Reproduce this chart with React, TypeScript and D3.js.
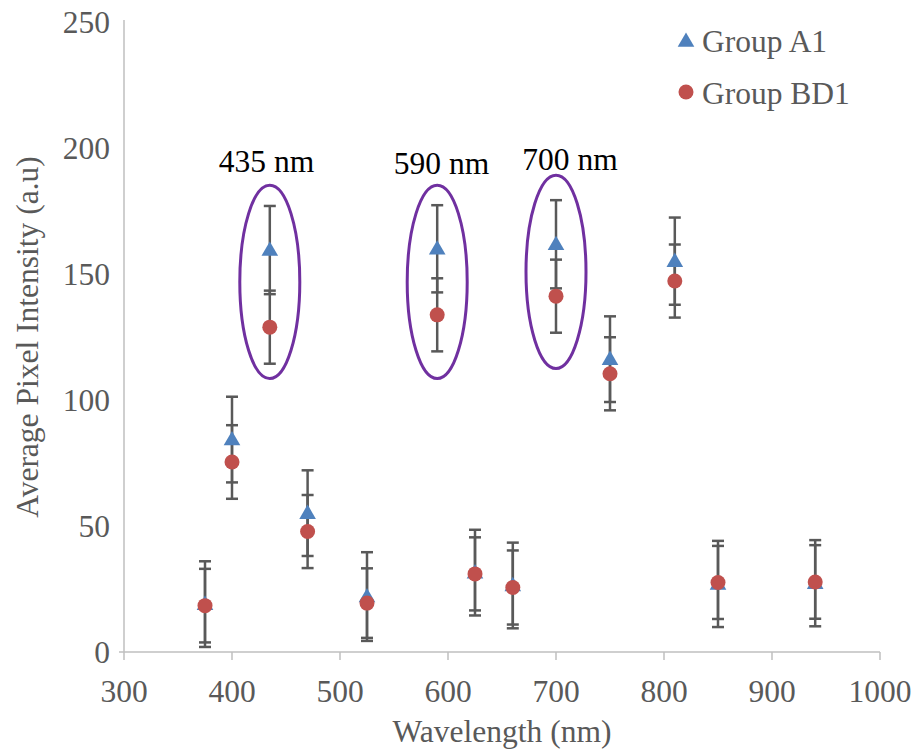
import React from 'react';
import * as d3 from 'd3';

// wavelengths (nm) shared by both groups
const wavelengths = [375, 400, 435, 470, 525, 590, 625, 660, 700, 750, 810, 850, 940];

const groupA1 = [19, 84.3, 159.5, 55.1, 22, 160, 31.5, 26.4, 161.8, 116.2, 155.1, 27, 27.3];
const groupA1Err = [17, 17, 17.5, 17, 17.6, 17.3, 17, 17, 17.5, 17, 17.3, 17.1, 17.1];

const groupBD1 = [18.4, 75.4, 128.9, 47.8, 19.4, 133.8, 31, 25.6, 141.2, 110.4, 147.2, 27.6, 27.8];
const groupBD1Err = [14.6, 14.6, 14.5, 14.5, 13.8, 14.5, 14.5, 14.7, 14.5, 14.5, 14.5, 14.5, 14.6];

const xTicks = [300, 400, 500, 600, 700, 800, 900, 1000];
const yTicks = [0, 50, 100, 150, 200, 250];

// highlighted wavelengths
const annWavelength = [435, 590, 700];
const annTop = [185.2, 185.2, 189.2];
const annBottom = [108.5, 108.5, 112.5];
const annLabels = ['435 nm', '590 nm', '700 nm'];
const annLabelNm = [432, 594, 713];
const annLabelVal = [190.5, 189.8, 191.3];

const FONT = 'Liberation Serif, serif';
const GREY = '#595959';
const BLUE = '#4F81BD';
const RED = '#C0504D';
const FS = 31.5;

const App = () => {
  const width = 917;
  const height = 751;

  const x = d3.scaleLinear().domain([300, 1000]).range([124, 880]);
  const y = d3.scaleLinear().domain([0, 250]).range([652, 22]);

  const cap = 6;
  const tri = d3.symbol().type(d3.symbolTriangle).size(120)();

  const errorBars = (vals, errs, key) =>
    wavelengths.map((w, i) => {
      const cx = x(w);
      const top = y(vals[i] + errs[i]);
      const bot = y(vals[i] - errs[i]);
      return (
        <g key={key + i} stroke={GREY} strokeWidth={2.5}>
          <line x1={cx} x2={cx} y1={top} y2={bot} />
          <line x1={cx - cap} x2={cx + cap} y1={top} y2={top} />
          <line x1={cx - cap} x2={cx + cap} y1={bot} y2={bot} />
        </g>
      );
    });

  return (
    <svg
      width={width}
      height={height}
      style={{ position: 'absolute', left: 0, top: 0, background: '#fff', fontFamily: FONT }}
    >
      {/* axes */}
      <line x1={x(300)} x2={x(300)} y1={y(250) - 2} y2={y(0)} stroke="#bfbfbf" strokeWidth={1.5} />
      <line x1={x(300) - 5} x2={x(1000)} y1={y(0)} y2={y(0)} stroke="#bfbfbf" strokeWidth={1.5} />
      {xTicks.map(t => (
        <g key={'xt' + t}>
          <line x1={x(t)} x2={x(t)} y1={y(0)} y2={y(0) + 8} stroke="#bfbfbf" strokeWidth={1.5} />
          <text x={x(t)} y={702} textAnchor="middle" fontSize={FS} fill={GREY}>
            {t}
          </text>
        </g>
      ))}
      {yTicks.map(t => (
        <text key={'yt' + t} x={110} y={y(t)} dy="0.34em" textAnchor="end" fontSize={FS} fill={GREY}>
          {t}
        </text>
      ))}

      <text x={(x(300) + x(1000)) / 2} y={742} textAnchor="middle" fontSize={FS} fill={GREY}>
        Wavelength (nm)
      </text>
      <text
        transform={`translate(38,${(y(0) + y(250)) / 2}) rotate(-90)`}
        textAnchor="middle"
        fontSize={FS}
        fill={GREY}
      >
        Average Pixel Intensity (a.u)
      </text>

      {/* highlight ellipses */}
      {annWavelength.map((w, i) => (
        <g key={'ann' + i}>
          <ellipse
            cx={x(w)}
            cy={(y(annTop[i]) + y(annBottom[i])) / 2}
            rx={30}
            ry={(y(annBottom[i]) - y(annTop[i])) / 2}
            fill="none"
            stroke="#7030A0"
            strokeWidth={3}
          />
          <text x={x(annLabelNm[i])} y={y(annLabelVal[i])} textAnchor="middle" fontSize={FS} fill="#000">
            {annLabels[i]}
          </text>
        </g>
      ))}

      {errorBars(groupA1, groupA1Err, 'ea')}
      {errorBars(groupBD1, groupBD1Err, 'eb')}

      {wavelengths.map((w, i) => (
        <path key={'a' + i} d={tri} transform={`translate(${x(w)},${y(groupA1[i]) + 1})`} fill={BLUE} />
      ))}
      {wavelengths.map((w, i) => (
        <circle key={'b' + i} cx={x(w)} cy={y(groupBD1[i])} r={7.5} fill={RED} />
      ))}

      {/* legend */}
      <path d={tri} transform="translate(686,42)" fill={BLUE} />
      <text x={702} y={52} fontSize={FS} fill={GREY}>Group A1</text>
      <circle cx={686} cy={92} r={7.5} fill={RED} />
      <text x={702} y={104} fontSize={FS} fill={GREY}>Group BD1</text>
    </svg>
  );
};

export default App;
